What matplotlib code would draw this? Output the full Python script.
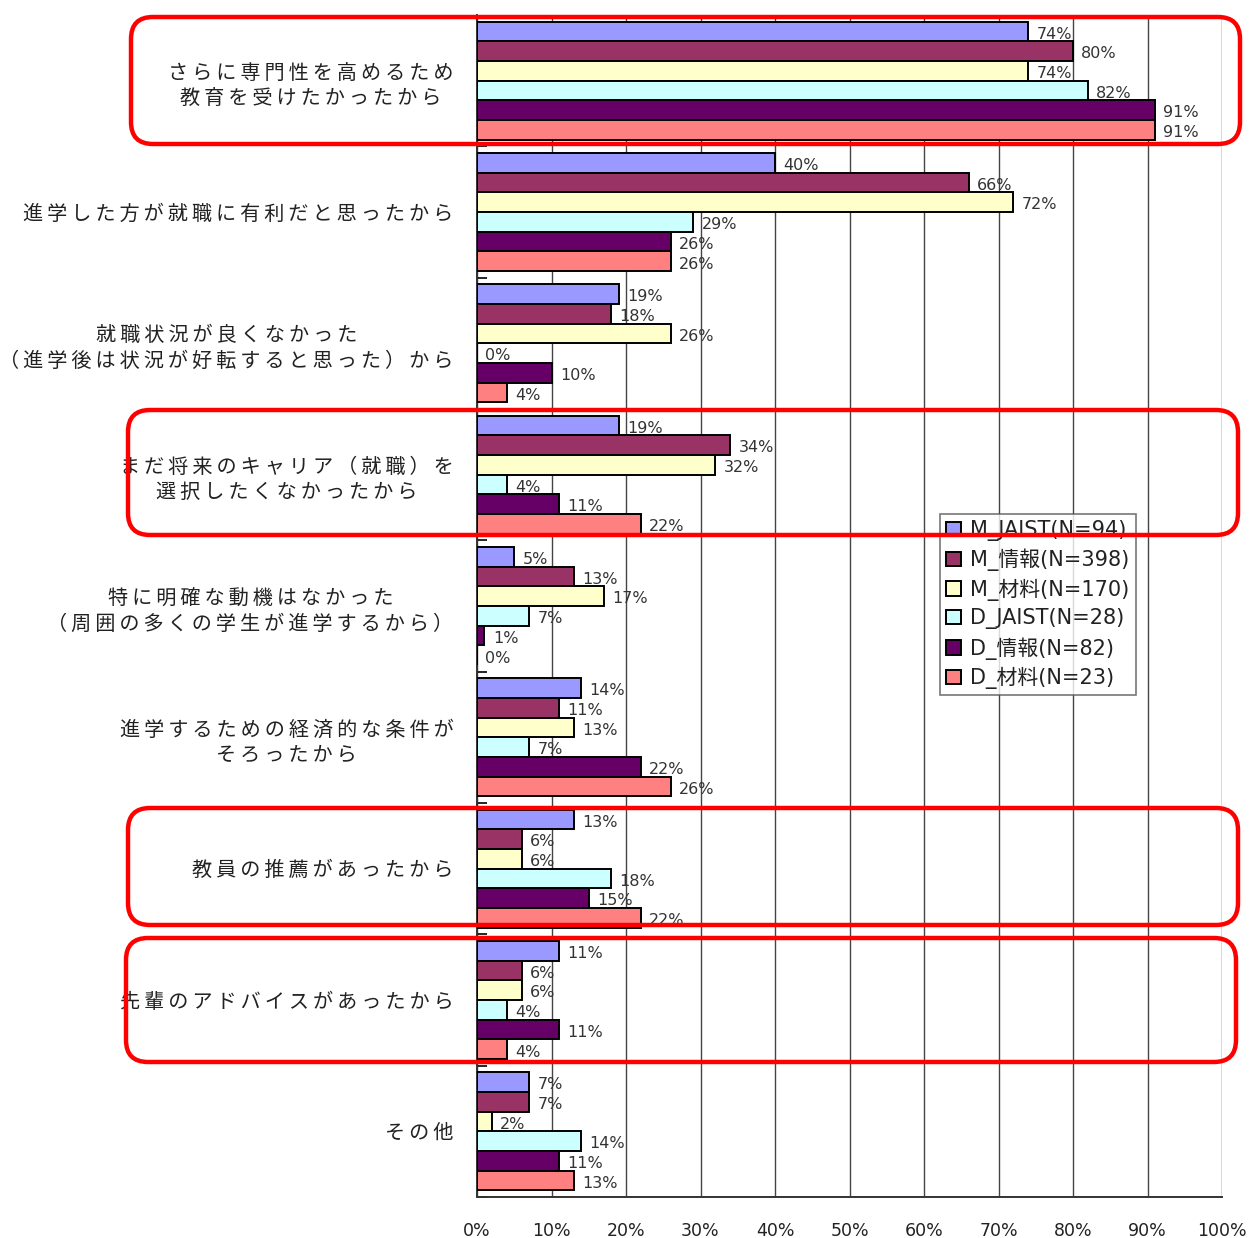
import numpy as np
import matplotlib
matplotlib.use("Agg")
import matplotlib.pyplot as plt
from matplotlib.patches import FancyBboxPatch

plt.rcParams['font.family'] = ['DejaVu Sans', 'Noto Sans CJK JP']

categories = [
    "さらに専門性を高めるため\n教育を受けたかったから",
    "進学した方が就職に有利だと思ったから",
    "就職状況が良くなかった\n（進学後は状況が好転すると思った）から",
    "まだ将来のキャリア（就職）を\n選択したくなかったから",
    "特に明確な動機はなかった\n（周囲の多くの学生が進学するから）",
    "進学するための経済的な条件が\nそろったから",
    "教員の推薦があったから",
    "先輩のアドバイスがあったから",
    "その他",
]

series_names = ["M_JAIST(N=94)", "M_情報(N=398)", "M_材料(N=170)",
                "D_JAIST(N=28)", "D_情報(N=82)", "D_材料(N=23)"]
series_colors = ["#9999FF", "#993366", "#FFFFCC", "#CCFFFF", "#660066", "#FF8080"]

m_jaist = [74, 40, 19, 19, 5, 14, 13, 11, 7]
m_joho = [80, 66, 18, 34, 13, 11, 6, 6, 7]
m_zairyo = [74, 72, 26, 32, 17, 13, 6, 6, 2]
d_jaist = [82, 29, 0, 4, 7, 7, 18, 4, 14]
d_joho = [91, 26, 10, 11, 1, 22, 15, 11, 11]
d_zairyo = [91, 26, 4, 22, 0, 26, 22, 4, 13]
values = [m_jaist, m_joho, m_zairyo, d_jaist, d_joho, d_zairyo]

xticks = np.arange(0, 101, 10)
xtick_labels = [f"{t}%" for t in xticks]

# groups outlined in red (indices into categories)
highlighted = [0, 3, 6, 7]


def spaced(text):
    # wider letter spacing for the Japanese labels
    return "\n".join("\u2009".join(line) for line in text.split("\n"))


W, H = 1256, 1238
fig = plt.figure(figsize=(W / 100, H / 100), dpi=100)
ax = fig.add_axes([477 / W, 1 - 1197 / H, (1222 - 477) / W, (1197 - 15) / H])

bar_h = 0.15
y = np.arange(len(categories))
for k, (vals, name, col) in enumerate(zip(values, series_names, series_colors)):
    pos = y - 0.45 + bar_h * (k + 0.5)
    bars = ax.barh(pos, vals, height=bar_h, color=col, edgecolor="black",
                   linewidth=1.4, label=name, zorder=3)
    for b, v in zip(bars, vals):
        ax.annotate(f"{v}%", (v, b.get_y() + b.get_height() / 2),
                    xytext=(6, -2), textcoords="offset points",
                    ha="left", va="center", fontsize=11.5, color="#333333",
                    zorder=4)

ax.set_xlim(0, 100)
ax.set_ylim(len(categories) - 0.5, -0.5)
ax.set_xticks(xticks)
ax.set_xticklabels(xtick_labels, fontsize=12.5, color="#222222")
ax.tick_params(axis="x", length=0, pad=18)
ax.set_yticks(y)
ax.set_yticklabels([spaced(c) for c in categories], fontsize=14.5,
                   color="#222222", multialignment="center", linespacing=1.4)
ax.tick_params(axis="y", length=0, pad=17)
ax.set_yticks(np.arange(0.5, len(categories), 1), minor=True)
ax.tick_params(axis="y", which="minor", direction="in", length=7, width=1.2)
ax.grid(axis="x", color="#444444", linewidth=1.0, zorder=0)
ax.spines["top"].set_visible(False)
ax.spines["right"].set_visible(False)
for s in ("left", "bottom"):
    ax.spines[s].set_color("#333333")
    ax.spines[s].set_linewidth(1.4)

leg = fig.legend(loc="upper left", bbox_to_anchor=(940 / W, 1 - 514 / H),
                 fontsize=15, frameon=True, fancybox=False, edgecolor="#555555",
                 handlelength=0.7, handleheight=0.7, handletextpad=0.45,
                 labelspacing=0.36, borderpad=0.3, borderaxespad=0)
leg.get_frame().set_linewidth(1.2)
for t in leg.get_texts():
    t.set_color("#222222")

# overlay in pixel coordinates for the red frames
ov = fig.add_axes([0, 0, 1, 1], zorder=10)
ov.set_xlim(0, W)
ov.set_ylim(H, 0)
ov.axis("off")
frames = {0: (131, 17, 1240, 144), 3: (128, 410, 1238, 535),
          6: (128, 808, 1238, 925), 7: (126, 938, 1236, 1062)}
for i in highlighted:
    x0, y0, x1, y1 = frames[i]
    ov.add_patch(FancyBboxPatch((x0, y0), x1 - x0, y1 - y0,
                                boxstyle="round,pad=0,rounding_size=22",
                                fill=False, edgecolor="#FF0000", linewidth=3.2))

fig.savefig("out.png", dpi=100)
